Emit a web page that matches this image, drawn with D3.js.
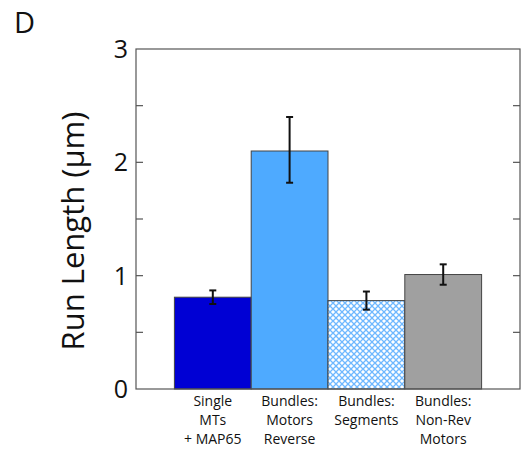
<!DOCTYPE html>
<html><head><meta charset="utf-8">
<script src="https://cdn.jsdelivr.net/npm/d3@7"></script>
<style>body{margin:0;background:#fff}svg{display:block}</style>
</head><body>
<script>
const categories = [["Single","MTs","+ MAP65"],["Bundles:","Motors","Reverse"],["Bundles:","Segments"],["Bundles:","Non-Rev","Motors"]];
const values = [0.81, 2.10, 0.78, 1.01];
const errLow = [0.75, 1.82, 0.70, 0.92];
const errHigh = [0.87, 2.40, 0.86, 1.10];
const yTickLabels = [0, 1, 2, 3];
const minorTicks = [0.5, 1, 1.5, 2, 2.5];
const fills = ["#0000d4", "#4eaaff", "url(#hatch)", "#a0a0a0"];

const W = 523, H = 453;
const svg = d3.select("body").append("svg").attr("width", W).attr("height", H);
const defs = svg.append("defs");
const pat = defs.append("pattern").attr("id","hatch").attr("patternUnits","userSpaceOnUse")
  .attr("width",6).attr("height",6);
pat.append("rect").attr("width",6).attr("height",6).attr("fill","#fff");
pat.append("path").attr("d","M0,0L6,6M6,0L0,6").attr("stroke","#6fb8ff").attr("stroke-width",1.3);

const x0 = 136, x1 = 520, y0 = 389, y1 = 49;
const x = d3.scaleLinear().domain([0,5]).range([x0,x1]);
const y = d3.scaleLinear().domain([0,3]).range([y0,y1]);
const font = "'Open Sans', sans-serif";

// bars
svg.selectAll("rect.bar").data(values).join("rect").attr("class","bar")
  .attr("x",(d,i)=>x(i+0.5)).attr("width",(d,i)=>x(i+1.5)-x(i+0.5))
  .attr("y",d=>y(d)).attr("height",d=>y(0)-y(d))
  .attr("fill",(d,i)=>fills[i]).attr("stroke","#444").attr("stroke-width",1);

// error bars
const eg = svg.append("g").attr("stroke","#111").attr("stroke-width",2);
values.forEach((v,i)=>{
  const cx = x(i+1);
  eg.append("line").attr("x1",cx).attr("x2",cx).attr("y1",y(errLow[i])).attr("y2",y(errHigh[i]));
  [errLow[i],errHigh[i]].forEach(e=>eg.append("line").attr("x1",cx-3.5).attr("x2",cx+3.5).attr("y1",y(e)).attr("y2",y(e)));
});

// frame
svg.append("rect").attr("x",x0).attr("y",y1).attr("width",x1-x0).attr("height",y0-y1)
  .attr("fill","none").attr("stroke","#555").attr("stroke-width",1.2);

// ticks inside
const tg = svg.append("g").attr("stroke","#555").attr("stroke-width",1.2);
minorTicks.forEach(t=>{
  tg.append("line").attr("x1",x0).attr("x2",x0+7).attr("y1",y(t)).attr("y2",y(t));
  tg.append("line").attr("x1",x1).attr("x2",x1-7).attr("y1",y(t)).attr("y2",y(t));
});

// y tick labels
svg.selectAll("text.yt").data(yTickLabels).join("text").attr("class","yt")
  .attr("x",x0-8).attr("y",d=>y(d)).attr("dy","0.36em").attr("text-anchor","end")
  .attr("font-family",font).attr("font-size",25).attr("fill","#111").text(d=>d);

// y label
svg.append("text").attr("transform",`translate(84,${(y0+y1)/2+12}) rotate(-90)`)
  .attr("text-anchor","middle").attr("font-family",font).attr("font-size",31).attr("fill","#111")
  .text("Run Length (μm)");

// x labels
categories.forEach((lines,i)=>{
  const t = svg.append("text").attr("text-anchor","middle").attr("font-family",font)
    .attr("font-size",14).attr("fill","#111");
  lines.forEach((l,j)=>t.append("tspan").attr("x",x(i+1)).attr("y",406+j*19.2).text(l));
});

// panel letter
svg.append("text").attr("x",14).attr("y",33).attr("font-family",font).attr("font-size",29)
  .attr("fill","#111").text("D");
</script>
</body></html>
